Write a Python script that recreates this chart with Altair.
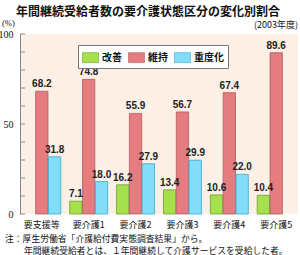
import altair as alt
import pandas as pd

categories = ['要支援等', '要介護1', '要介護2', '要介護3', '要介護4', '要介護5']
kaizen = [None, 7.1, 16.2, 13.4, 10.6, 10.4]
iji = [68.2, 74.8, 55.9, 56.7, 67.4, 89.6]
judo = [31.8, 18.0, 27.9, 29.9, 22.0, None]
series_names = ['改善', '維持', '重度化']
fills = ['#a6e04c', '#e47c80', '#82def8']
strokes = ['#6a9e30', '#b25a5e', '#3aa6cc']
y_labels = [0, 50, 100]
y_ticks = [0, 10, 20, 30, 40, 50, 60, 70, 80, 90, 100]

title_text = '年間継続受給者数の要介護状態区分の変化別割合'
year_text = '(2003年度)'
unit_text = '(%)'
note1 = '注：厚生労働省「介護給付費実態調査結果」から。'
note2 = '年間継続受給者とは、１年間継続して介護サービスを受給した者。'

rows = []
for s, vals in zip(series_names, [kaizen, iji, judo]):
    for c, v in zip(categories, vals):
        if v is not None:
            rows.append({'cat': c, 'type': s, 'value': v})
df = pd.DataFrame(rows)

W, H = 278, 180

x_scale = alt.Scale(paddingInner=0.19, paddingOuter=0.06)
x_enc = alt.X('cat:N', sort=categories, scale=x_scale,
              axis=alt.Axis(title=None, labelAngle=0, ticks=False, tickSize=0, domain=False,
                            labelPadding=6, labelFont='Noto Sans CJK JP', labelFontSize=9,
                            labelColor='#111', labelOverlap=False))
xoff = alt.XOffset('type:N', sort=series_names, scale=alt.Scale(domain=series_names, paddingInner=0.04))
y_scale = alt.Scale(domain=[0, 100], nice=False)
y_axis = alt.Axis(title=None, values=y_labels, ticks=False, grid=False,
                  labelOverlap=False, labelFlush=False,
                  labelFont='Liberation Serif', labelFontSize=10, labelColor='#111',
                  labelPadding=7, domainColor='#8a8a8a', domainWidth=1)

bars = alt.Chart(df).mark_bar(strokeWidth=0.8).encode(
    x=x_enc,
    xOffset=xoff,
    y=alt.Y('value:Q', scale=y_scale, axis=y_axis),
    color=alt.Color('type:N', sort=series_names,
                    scale=alt.Scale(domain=series_names, range=fills),
                    legend=alt.Legend(title=None, orient='none', legendX=58, legendY=11,
                                      direction='horizontal', fillColor='white',
                                      strokeColor='#777', padding=4,
                                      symbolType='M-1,-0.62H1V0.62H-1Z', symbolSize=256,
                                      symbolStrokeColor='#666', symbolStrokeWidth=0.6,
                                      symbolOpacity=1,
                                      labelFont='Noto Sans CJK JP', labelFontSize=10,
                                      labelFontWeight='bold', labelColor='#111',
                                      labelOffset=3, columnPadding=5)),
    stroke=alt.Stroke('type:N', scale=alt.Scale(domain=series_names, range=strokes), legend=None),
)

labels = alt.Chart(df).mark_text(dy=-7, font='Liberation Sans', fontSize=10,
                                 fontWeight='bold', color='#222').encode(
    x=x_enc,
    xOffset=xoff,
    y=alt.Y('value:Q', scale=y_scale, axis=y_axis),
    text=alt.Text('value:Q', format='.1f'),
)

tick_df = pd.DataFrame({'t': y_ticks})
ticks = alt.Chart(tick_df).mark_rule(color='#8a8a8a', strokeWidth=1).encode(
    y=alt.Y('t:Q', scale=y_scale, axis=y_axis),
    x=alt.value(0), x2=alt.value(5),
)

def txt(s, x, y, size, align='left', weight='normal', font='Noto Sans CJK JP'):
    return alt.Chart(pd.DataFrame({'s': [s]})).mark_text(
        align=align, baseline='middle', fontSize=size, fontWeight=weight,
        font=font, color='#111').encode(text='s:N', x=alt.value(x), y=alt.value(y))

texts = [
    txt(title_text, 128, -22, 12, align='center', weight='bold'),
    txt(year_text, 278, -9, 9, align='right'),
    txt(unit_text, -18, -11, 8.5, font='Liberation Serif'),
    txt(note1, -15, 204.5, 8.8),
    txt(note2, 4, 216.5, 8.8),
]

chart = alt.layer(bars, labels, ticks, *texts).resolve_scale(
    color='independent', stroke='independent'
).properties(
    width=W, height=H,
    autosize=alt.AutoSizeParams(type='none'),
    padding={'left': 20, 'top': 34, 'right': 2, 'bottom': 41},
).configure_view(fill='#fcf0e6', stroke=None)

chart.save('out.html', embed_options={'renderer': 'svg', 'actions': False})
